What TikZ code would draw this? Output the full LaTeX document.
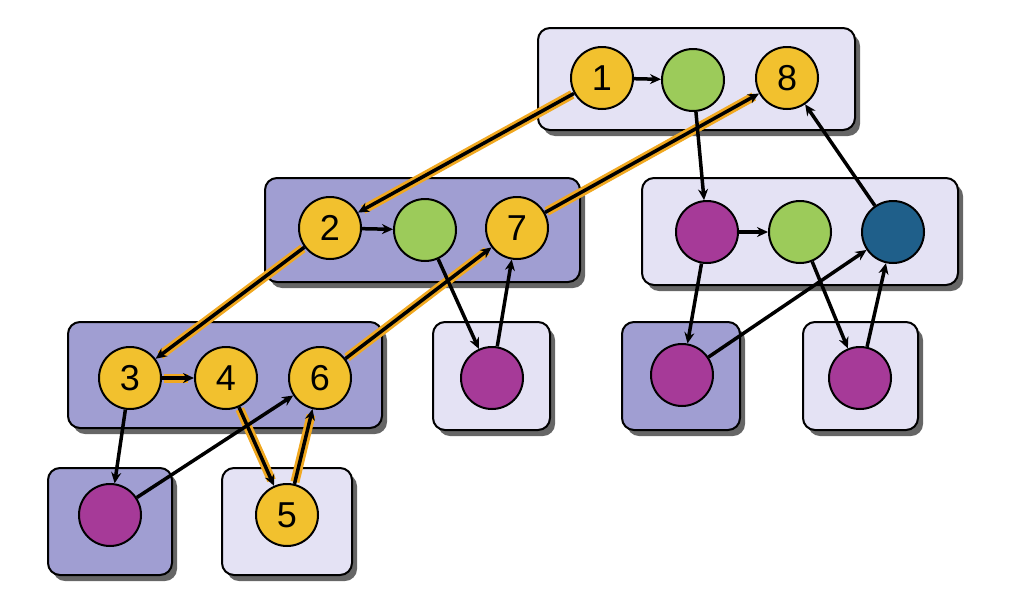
\documentclass[tikz,border=0pt]{standalone}
\usepackage{fontspec}
\setmainfont{Liberation Sans}
\usetikzlibrary{arrows.meta}
\definecolor{cl}{HTML}{E4E2F4}
\definecolor{cd}{HTML}{A09ED2}
\definecolor{cy}{HTML}{F2C12E}
\definecolor{cg}{HTML}{9CCB5A}
\definecolor{cm}{HTML}{A63A98}
\definecolor{cb}{HTML}{1F5F8A}
\definecolor{co}{HTML}{F0A820}
\begin{document}
\begin{tikzpicture}[x=1pt,y=-1pt,
 box/.style={draw=black,line width=2pt,rounded corners=12pt},
 lt/.style={box,fill=cl},
 dk/.style={box,fill=cd},
 nd/.style={circle,draw=black,line width=2pt,minimum size=62pt,inner sep=0pt,font=\fontsize{36}{36}\selectfont},
 yel/.style={nd,fill=cy},
 grn/.style={nd,fill=cg},
 mag/.style={nd,fill=cm},
 blu/.style={nd,fill=cb},
 ed/.style={-{Stealth[length=11pt,width=10pt]},line width=3.5pt,black},
 hl/.style={line width=9pt,co,shorten <=2pt,shorten >=6pt}]
\useasboundingbox (0,0) rectangle (1030,608);
\foreach \a/\b/\c/\d/\s in {538/28/855/130/lt,265/178/580/282/dk,642/178/958/285/lt,68/322/382/428/dk,433/322/550/430/lt,622/322/740/430/dk,803/322/918/430/lt,48/468/172/575/dk,222/468/352/575/lt}{
 \fill[black!60,rounded corners=12pt] (\a+5,\b+6) rectangle (\c+5,\d+6);
 \draw[\s] (\a,\b) rectangle (\c,\d);}
\node[yel] (n1) at (602,78) {1};
\node[grn] (g1) at (693,80) {};
\node[yel] (n8) at (787,78) {8};
\node[yel] (n2) at (330,228) {2};
\node[grn] (g2) at (425,230) {};
\node[yel] (n7) at (517,228) {7};
\node[mag] (mr) at (707,232) {};
\node[grn] (gr) at (800,232) {};
\node[blu] (br) at (893,232) {};
\node[yel] (n3) at (130,378) {3};
\node[yel] (n4) at (226,378) {4};
\node[yel] (n6) at (320,378) {6};
\node[mag] (m1) at (492,378) {};
\node[mag] (m2) at (682,375) {};
\node[mag] (m3) at (860,378) {};
\node[mag] (m4) at (110,515) {};
\node[yel] (n5) at (287,515) {5};
\foreach \u/\v in {n1/n2,n2/n3,n3/n4,n4/n5,n5/n6,n6/n7,n7/n8}{
 \draw[hl] (\u) -- (\v);}
\foreach \u/\v in {n1/g1,n1/n2,g1/mr,br/n8,n2/g2,n2/n3,n7/n8,g2/m1,m1/n7,n3/n4,n4/n5,n5/n6,n6/n7,n3/m4,m4/n6,mr/gr,mr/m2,m2/br,gr/m3,m3/br}{
 \draw[ed] (\u) -- (\v);}
\end{tikzpicture}
\end{document}
